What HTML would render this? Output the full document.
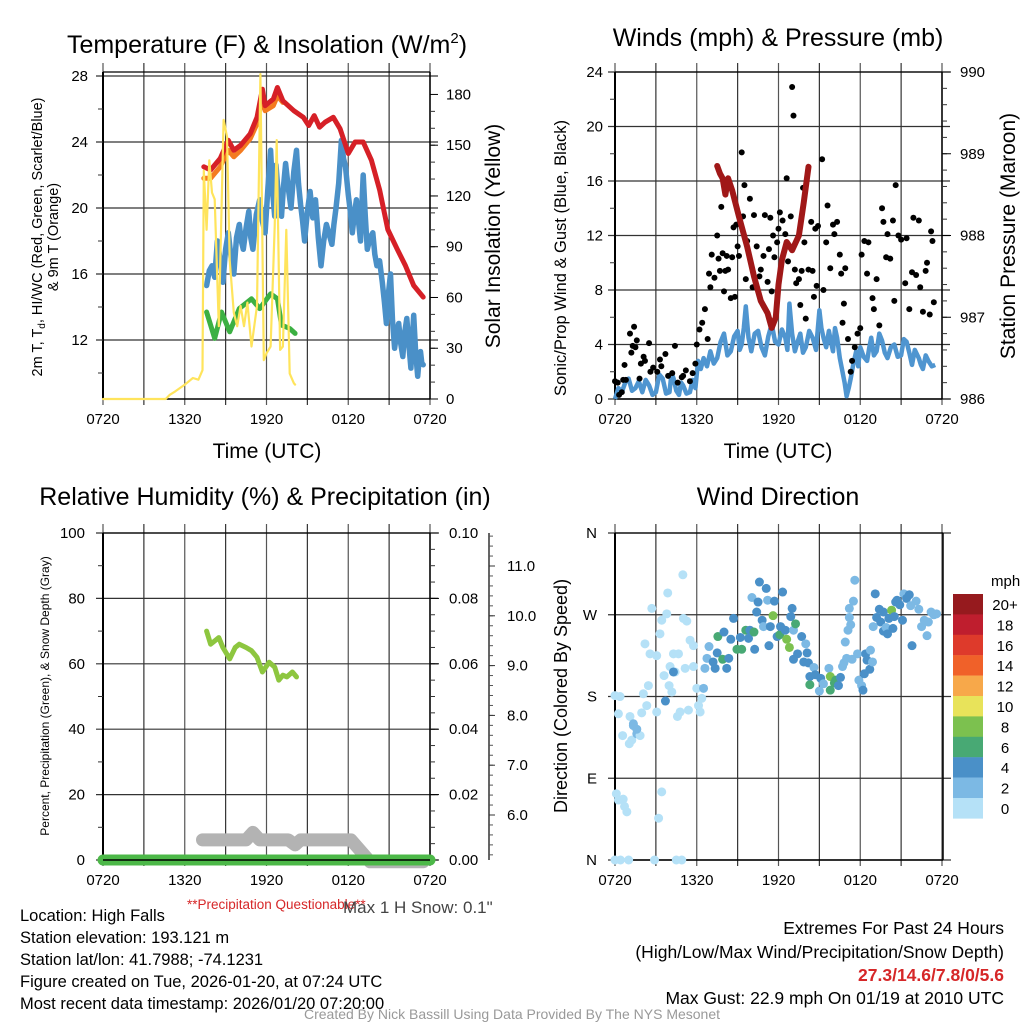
<!DOCTYPE html>
<html><head><meta charset="utf-8"><style>
body{margin:0;background:#fff}
svg{display:block;font-family:"Liberation Sans",sans-serif}
</style></head><body>
<svg id="chart" width="1024" height="1024" viewBox="0 0 1024 1024">
<g id="g1"></g>
<g id="g2"></g>
<g id="g3"></g>
<g id="g4"></g>
<g id="txt">
<text x="267" y="53" font-size="25" text-anchor="middle">Temperature (F) &amp; Insolation (W/m<tspan dy="-10" font-size="15">2</tspan><tspan dy="10">)</tspan></text>
<text x="778" y="46" font-size="25" text-anchor="middle">Winds (mph) &amp; Pressure (mb)</text>
<text x="265" y="505" font-size="25" text-anchor="middle">Relative Humidity (%) &amp; Precipitation (in)</text>
<text x="778" y="505" font-size="25" text-anchor="middle">Wind Direction</text>
<text x="267" y="458" font-size="21" text-anchor="middle">Time (UTC)</text>
<text x="778" y="458" font-size="21" text-anchor="middle">Time (UTC)</text>
<text transform="translate(42,237) rotate(-90)" font-size="14.5" text-anchor="middle">2m T, T<tspan dy="3" font-size="10">d</tspan><tspan dy="-3">, HI/WC (Red, Green, Scarlet/Blue)</tspan></text>
<text transform="translate(58,237) rotate(-90)" font-size="14.5" text-anchor="middle">&amp; 9m T (Orange)</text>
<text transform="translate(500,236) rotate(-90)" font-size="21" text-anchor="middle">Solar Insolation (Yellow)</text>
<text transform="translate(566,258) rotate(-90)" font-size="16.5" text-anchor="middle">Sonic/Prop Wind &amp; Gust (Blue, Black)</text>
<text transform="translate(1015,236) rotate(-90)" font-size="21" text-anchor="middle">Station Pressure (Maroon)</text>
<text transform="translate(49,696) rotate(-90)" font-size="12" text-anchor="middle">Percent, Precipitation (Green), &amp; Snow Depth (Gray)</text>
<text transform="translate(567,696) rotate(-90)" font-size="18" text-anchor="middle">Direction (Colored By Speed)</text>
<text x="187" y="909" font-size="13.5" fill="#d62728">**Precipitation Questionable**</text>
<text x="343" y="913" font-size="17" fill="#444">Max 1 H Snow: 0.1"</text>
<g font-size="16.5">
<text x="20" y="921">Location: High Falls</text>
<text x="20" y="943">Station elevation: 193.121 m</text>
<text x="20" y="965">Station lat/lon: 41.7988; -74.1231</text>
<text x="20" y="987">Figure created on Tue, 2026-01-20, at 07:24 UTC</text>
<text x="20" y="1009">Most recent data timestamp: 2026/01/20 07:20:00</text>
</g>
<g font-size="17.5" text-anchor="end">
<text x="1004" y="934">Extremes For Past 24 Hours</text>
<text x="1004" y="958">(High/Low/Max Wind/Precipitation/Snow Depth)</text>
<text x="1004" y="981" fill="#d62728" font-weight="bold">27.3/14.6/7.8/0/5.6</text>
<text x="1004" y="1004">Max Gust: 22.9 mph On 01/19 at 2010 UTC</text>
</g>
<text x="512" y="1019" font-size="14" fill="#999" text-anchor="middle">Created By Nick Bassill Using Data Provided By The NYS Mesonet</text>
</g>
</svg>
<script>
// ---- Temperature panel data (t = hours since 0720 UTC) ----
const tempT = [7.4,7.9,8.6,9.2,9.6,10.1,10.8,11.3,11.7,11.9,12.5,12.8,13.2,14,14.7,15.1,15.5,15.9,16.3,16.9,17.4,18,18.5,19.1,19.7,20.3,20.9,21.6,22.2,22.8,23.5];
const tempV = [22.5,22.3,23.0,24.1,23.5,23.8,24.5,25.5,27.2,26.2,26.6,27.3,26.5,25.9,25.5,25.0,25.6,24.9,25.2,25.5,24.8,23.3,24.0,24.0,22.9,21.1,18.7,17.5,16.5,15.3,14.6];
const t9T = [7.4,7.9,8.6,9.2,9.6,10.1,10.8,11.3,11.7,11.9,12.5,12.8,13.2];
const t9V = [21.8,21.8,22.5,23.5,23.1,23.5,24.2,25.1,26.8,25.9,26.2,26.8,26.4];
const dewT = [7.6,8.2,8.7,9.3,10,10.9,11.5,12.3,12.8,13.1,13.7,14.1];
const dewV = [13.7,12.1,13.7,12.5,13.9,14.5,13.9,14.8,14.5,12.9,12.7,12.4];
const wcT = [7.6,7.8,8,8.2,8.4,8.6,8.8,9,9.2,9.4,9.6,9.8,10,10.15,10.3,10.5,10.7,10.85,11,11.25,11.5,11.7,11.9,12.1,12.3,12.45,12.6,12.7,12.8,12.95,13.1,13.25,13.4,13.6,13.8,14,14.2,14.35,14.5,14.65,14.8,15,15.2,15.4,15.6,15.8,16,16.2,16.4,16.6,16.8,16.95,17.1,17.3,17.5,17.65,17.8,18,18.15,18.3,18.45,18.6,18.75,18.9,19,19.1,19.25,19.4,19.6,19.8,19.95,20.1,20.3,20.5,20.65,20.8,20.95,21.1,21.25,21.4,21.55,21.7,21.85,22,22.15,22.3,22.45,22.6,22.7,22.8,22.95,23.1,23.2,23.3,23.4,23.5];
const wcV = [15.3,16.2,16.5,15.8,18,16.8,15.5,17.5,18.5,17,16,18.2,19,18,17.5,18.8,19.8,18.2,17.5,19.6,20.5,19.2,18.5,21.2,23.5,21,19.5,22.6,21.5,20,19.5,21.3,22.7,21.2,20,22.2,23.5,21.5,20.2,19.2,18,19.8,21,19.4,20.5,18.2,16.5,18,19,18.4,17.8,19,20,21.5,24.1,23,22.5,20.8,19.8,18.5,19.6,20.5,19.2,18,20.2,22,19.5,17.5,18.2,18.5,17.2,16.5,16.8,15.5,14.3,13,14.8,16,13.2,11.5,12.4,13,11.8,11,12.5,13.3,11.7,10.3,12,13.5,11.2,9.8,10.8,11.3,10.6,10.5];
const solT = [0,4.6,4.9,5.3,6,6.6,7,7.3,7.4,7.6,7.8,8,8.2,8.5,8.85,9.1,9.3,9.6,9.85,10.1,10.35,10.6,10.9,11.3,11.55,11.8,12,12.3,12.6,12.75,13,13.2,13.45,13.7,14,14.1];
const solV = [0,0,2.5,4.5,8.5,12.4,11.4,17,135,100,141,122,118,43,165,155,82,51,43,55,43,57,31,55,192,23,27,31,102,153,29,31,100,15,9.4,8.5];
const tempTicks = [12,16,20,24,28];
const solTicks = [0,30,60,90,120,150,180];
const timeLabels = ["0720","1320","1920","0120","0720"];
// ---- Winds panel data ----
const presT = [7.5,7.7,7.9,8.1,8.3,8.6,9.1,9.7,10.2,10.7,11.2,11.5,11.8,12,12.25,12.6,13,13.5,13.85,14.2];
const presV = [988.85,988.76,988.7,988.5,988.7,988.55,988.23,987.86,987.5,987.2,987.05,986.87,987.0,987.4,987.7,987.92,987.82,988.0,988.4,988.84];
const windT = [0,0.25,0.5,0.75,1,1.25,1.5,1.75,2,2.25,2.5,2.75,3,3.25,3.5,3.75,4,4.15,4.3,4.5,4.7,4.85,5,5.25,5.5,5.7,5.9,6.1,6.3,6.5,6.75,7,7.25,7.5,7.75,8,8.25,8.5,8.75,9,9.15,9.3,9.45,9.6,9.8,10,10.25,10.5,10.75,11,11.25,11.5,11.75,12,12.25,12.5,12.65,12.8,13,13.2,13.4,13.6,13.8,14,14.25,14.5,14.75,15,15.15,15.3,15.5,15.7,15.85,16,16.15,16.3,16.5,16.7,16.85,17,17.15,17.3,17.5,17.7,17.85,18,18.25,18.5,18.65,18.8,19,19.2,19.4,19.6,19.8,20,20.25,20.5,20.75,21,21.2,21.4,21.6,21.8,22,22.3,22.45,22.6,22.8,23,23.25,23.5];
const windV = [0,0.8,0.5,1.2,1.5,0.6,0.8,1.3,0.5,1.4,1,0.3,0.5,1.8,1.5,0.4,0.5,1.9,1.5,0.6,0.3,1.2,1,0.4,0.5,1.4,0.8,2.8,2.2,3,2.4,3.5,2.6,3,4.2,4.8,3.2,3.5,4.6,5,3.6,4,5.2,6.8,4.5,3.5,4.8,5,3.8,3.2,4.6,5.5,4.2,4,5.1,4.5,3.6,7,4.8,3.5,4.2,4.8,3.4,3.8,5,4.5,3.6,6.5,5.2,4.5,3.8,5,4.2,3.5,5.2,4.5,3,2,1.2,0.2,0.8,1.5,2.6,3.5,2.4,3.8,3.1,2.8,3.7,4.5,3.2,3.5,4.8,4.3,3.4,3,3.8,4,3.1,3.2,4.4,4.2,3.4,2.5,3.6,3,2.5,2.2,3.2,2.8,2.4,2.5];
const gustT = [0,0.2,0.3,0.5,0.6,0.7,0.8,1.1,1.2,1.3,1.4,1.5,1.6,1.8,1.9,2.1,2.2,2.5,2.6,2.8,3.1,3.3,3.4,3.7,3.9,4.2,4.4,4.6,4.9,5,5.2,5.5,5.7,5.9,6,6.2,6.4,6.6,6.8,6.9,7,7.1,7.3,7.5,7.6,7.7,7.8,7.9,8,8.1,8.2,8.3,8.5,8.6,8.7,8.8,8.9,9,9.1,9.3,9.4,9.5,9.6,9.7,9.9,10.1,10.2,10.4,10.6,10.7,10.9,11,11.2,11.3,11.4,11.5,11.6,11.7,11.9,12,12.1,12.3,12.5,12.6,12.7,12.9,13,13.1,13.2,13.3,13.5,13.6,13.7,13.8,13.9,14,14.2,14.4,14.5,14.6,14.7,14.8,14.9,15.2,15.3,15.5,15.6,15.8,16,16.1,16.3,16.5,16.6,16.7,16.8,16.9,17.1,17.3,17.4,17.6,17.8,18,18.1,18.3,18.5,18.6,18.9,19,19.2,19.4,19.6,19.7,19.9,20,20.2,20.4,20.5,20.6,20.8,21,21.3,21.4,21.6,21.8,21.9,22.1,22.3,22.4,22.6,22.8,22.9,23.1,23.2,23.3,23.4];
const gustV = [1.3,1.2,0.3,0.5,1.4,2.5,1.4,4.8,3.4,3.9,5.3,3.8,4.3,1.5,2.6,3.1,2.8,4.1,2,2.3,2,2.9,2.4,3.3,1.7,1.9,3.9,1.2,1.6,1.7,2.1,1.3,1.9,2.6,4,5.1,5.6,6.6,4.4,9.2,8.2,10.6,8.9,12,10.3,9.4,14.1,10.7,7.9,9.4,10.5,9.5,7.4,10.4,12.6,7.5,12.8,11.2,10.5,18.1,13.4,15.7,8.8,11.6,14.7,8.2,13.5,11.2,9,9.5,10.5,13.5,8.6,11,13.3,7.9,12,10.4,11.5,12.5,13.7,13.1,12.1,16.2,10.1,13.4,22.9,20.8,9.5,8.5,8.8,6.9,9.4,15.5,11.5,5.9,9.5,13,9.4,7.5,12.5,8.3,12.7,17.6,8,11.5,14.2,9.6,12.8,12.1,13,10.6,9.2,5.6,7,9.6,4.4,2,2.8,3.8,4.8,5.2,10.6,11.6,9.2,11.5,7.4,6.6,8.8,5.4,14,13,10.4,12.1,10.3,13.1,7.2,15.7,12,11.7,8.5,11.8,6.6,9.3,13.3,9.1,13.1,8.2,6.4,9.4,10,6.2,12.3,11.6,7.1];
const windTicks = [0,4,8,12,16,20,24];
const presTicks = [986,987,988,989,990];
// ---- Humidity panel data ----
const rhT = [7.6,7.9,8.2,8.5,8.8,9.3,9.7,10,10.5,10.9,11.3,11.7,12.2,12.6,12.9,13.2,13.5,13.9,14.2];
const rhV = [70,66,67,68,65,61.5,65,66,65,64,62,57.5,60.5,59,55,56.5,56,57.5,56];
const snowT = [7.3,10.5,11,11.5,12.3,13.6,14.1,14.5,18.2,19.6,23.5];
const snowV = [5.5,5.5,5.65,5.5,5.5,5.5,5.4,5.5,5.5,5.06,5.06];
const precipT = [0,24];
const precipV = [0,0];
const rhTicks = [0,20,40,60,80,100];
const precTicks = ["0.00","0.02","0.04","0.06","0.08","0.10"];
const snowTicks = [6,7,8,9,10,11];
// ---- Wind direction data ----
const dirT = [0,0.37,0.25,0.56,1.1,1.05,1.23,1.35,1.6,1.84,1.96,2.08,2.33,2.45,2.7,2.57,2.2,3.06,3.06,3.3,3.43,3.6,3.8,3.87,3.97,4.04,4.17,4.29,4.41,4.58,4.66,4.78,4.98,5.02,5.27,5.15,5.39,5.51,5.76,5.76,6.0,6.13,6.25,6.37,0.1,0.25,0.6,0.7,0.87,3.43,3.2,0,0.4,1,2.9,4.5,4.9,1.35,1.6,3.7,4.29,
 6.5,6.6,6.75,6.9,7.2,7.35,7.55,7.5,7.9,8,8.2,8.35,8.5,8.7,8.95,9.3,9.2,9.6,9.8,9.9,10.2,10.25,10.4,10.05,10.5,10.6,11.1,10.8,10.9,11.2,11.3,11.4,11.6,11.7,11.9,12.1,12.15,12.3,12.5,12.6,12.8,12.9,13,13.1,13.25,13.4,13.1,13.7,13.85,14,14.1,14.2,14.3,14.6,14.3,14.7,15.1,15,15.3,15.7,15.8,15.8,16.1,16.2,16.4,16.55,16.7,16.8,17.0,16.9,17.1,17.3,17.2,17.5,17.6,17.2,17.4,17.8,17.9,18.1,18.2,18.3,18.4,18.5,18.7,18.75,18.9,18.95,19.1,19.2,19.4,19.5,19.7,19.7,19.9,20,20.1,20.3,20.4,20.5,20.6,20.7,20.9,21.1,21.2,21.4,21.6,21.7,21.8,22.1,22.3,22.5,22.7,22.9,23.0,23.2,23.4,23.6];
const dirV = [181,180,161,137,158,128,132,148,139,137,162,183,170,192,277,227,238,225,163,249,264,203,271,294,192,213,185,227,207,158,227,163,314,266,263,211,165,242,236,213,189,170,163,178,73,66,67,59,53,75,46,0,0,0,0,0,0,150,144,175,207,
 189,211,222,235,218,211,246,228,221,251,211,222,243,266,232,232,245,253,244,253,251,232,273,289,284,306,299,264,257,286,236,257,269,285,246,248,257,295,253,243,234,268,277,253,260,227,221,246,218,238,228,217,202,212,193,204,200,186,194,211,202,187,195,198,192,201,213,217,222,240,253,259,267,285,308,277,221,227,198,192,187,205,227,220,210,231,218,257,293,267,276,262,273,252,256,249,266,275,255,268,284,286,281,264,293,288,292,280,236,285,276,257,264,247,262,273,270,271];
const dirS = [1,1,1,1,1,1,1,2,2,1,1,1,1,1,1,1,1,1,1,1,1,1,1,1,1,1,1,1,1,1,1,1,1,1,1,1,1,1,1,1,1,1,1,1,1,1,1,1,1,1,1,1,1,1,1,1,1,3,3,4,4,
 3,3,2,2,5,5,7,5,7,5,5,5,5,5,7,7,5,7,5,5,7,5,5,3,5,5,5,5,3,3,5,5,9,5,5,7,5,5,5,9,9,5,5,3,7,5,5,5,5,3,5,5,5,3,7,5,5,2,3,3,9,7,7,7,5,5,3,3,3,3,2,2,2,3,2,2,3,3,3,3,5,5,5,5,5,3,3,2,5,5,5,5,5,5,3,5,5,9,5,5,5,5,5,5,3,5,5,3,5,3,3,3,3,3,3,3,3,3,3,3,3,3,3,3];
const cbLabels = ["20+","18","16","14","12","10","8","6","4","2","0"];
const cbColors = ["#961a1e","#bf1e2e","#de3a2b","#f06129","#f7a84a","#e8e35a","#7cc14f","#48a974","#4a90c8","#7cb9e4","#b5e1f7"];

const NS="http://www.w3.org/2000/svg";
function mk(parent,tag,attrs){const e=document.createElementNS(NS,tag);for(const k in attrs)e.setAttribute(k,attrs[k]);parent.appendChild(e);return e;}
function txt(parent,x,y,s,size,anchor){const e=mk(parent,'text',{x:x,y:y,'font-size':size,'text-anchor':anchor||'middle'});e.textContent=s;return e;}
function pathFrom(ts,vs,xf,yf){return ts.map((t,i)=>(i?'L':'M')+xf(t).toFixed(1)+','+yf(vs[i]).toFixed(1)).join('');}

const HX=13.625;
function frame(g,L,T,R,B,hy){
  for(let h=0;h<=24;h+=3){const x=L+h*HX;const l=mk(g,'line',{x1:x,y1:T-9,x2:x,y2:B+6,stroke:(h%6?'#333':'#555'),'stroke-width':1.2});
  
  }
  hy.forEach(y=>{const l=mk(g,'line',{x1:L-7,y1:y,x2:R+8,y2:y,stroke:'#333','stroke-width':1.2});
  
  });
  mk(g,'line',{x1:L,y1:T,x2:L,y2:B,stroke:'#000','stroke-width':2});
  mk(g,'line',{x1:R,y1:T,x2:R,y2:B,stroke:'#000','stroke-width':1.5});
  mk(g,'line',{x1:L,y1:T,x2:R,y2:T,stroke:'#000','stroke-width':1.2});
  mk(g,'line',{x1:L,y1:B,x2:R,y2:B,stroke:'#000','stroke-width':1.5});
  timeLabels.forEach((s,i)=>{const e=txt(g,L+i*6*HX,B+25,s,15);
  
  });
}
function minorTicks(g,x,y0,y1,step,dir){for(let y=y0;y<=y1+0.1;y+=step)mk(g,'line',{x1:x,y1:y,x2:x+dir*5,y2:y,stroke:'#333','stroke-width':1});}

// ---- Panel 1 ----
(function(){
 const g=document.getElementById('g1');const L=103,R=430,T=72,B=399;
 const x=t=>L+t*HX, yT=v=>76+(28-v)*16.5, yS=v=>399-v*1.692;
 frame(g,L,T,R,B,tempTicks.map(yT));
 minorTicks(g,L,yT(26),yT(10),33,-1);
 minorTicks(g,R,yS(170),yS(10),16.92,1);
 tempTicks.forEach(v=>{const e=txt(g,88,yT(v)+5,String(v),15,'end');
 
 });
 solTicks.forEach(v=>{mk(g,'line',{x1:R,y1:yS(v),x2:R+8,y2:yS(v),stroke:'#000'});const e=txt(g,446,yS(v)+5,String(v),15,'start');
 
 });
 const lines=[[wcT,wcV,yT,'#4a90c8',5.5,'wind-chill-line'],[t9T,t9V,yT,'#f47b20',5,'temp-9m-line'],[tempT,tempV,yT,'#d62027',5,'temp-2m-line'],[dewT,dewV,yT,'#3cb043',5,'dewpoint-line'],[solT,solV,yS,'#ffe45c',2.2,'insolation-line']];
 lines.forEach(a=>{const p=mk(g,'path',{d:pathFrom(a[0],a[1],x,a[2]),fill:'none',stroke:a[3],'stroke-width':a[4],'stroke-linejoin':'round','stroke-linecap':'round'});
 
 });
})();
// ---- Panel 2 ----
(function(){
 const g=document.getElementById('g2');const L=615,R=942,T=72,B=399;
 const x=t=>L+t*HX, yW=v=>399-v*13.625, yP=p=>399-(p-986)*81.75;
 frame(g,L,T,R,B,windTicks.map(yW));
 minorTicks(g,L,yW(22),yW(2),54.5,-1);
 minorTicks(g,R,yP(989.8),yP(986.2),16.35,1);
 windTicks.forEach(v=>{const e=txt(g,603,yW(v)+5,String(v),15,'end');
 
 });
 presTicks.forEach(v=>{mk(g,'line',{x1:R,y1:yP(v),x2:R+9,y2:yP(v),stroke:'#000'});const e=txt(g,960,yP(v)+5,String(v),15,'start');
 
 });
 const w=mk(g,'path',{d:pathFrom(windT,windV,x,yW),fill:'none',stroke:'#4f95d0','stroke-width':4.5,'stroke-linejoin':'round'});
 
 
 gustT.forEach((t,i)=>{const c=mk(g,'circle',{cx:x(t),cy:yW(gustV[i]),r:3,fill:'#000'});
 
 });
 const p=mk(g,'path',{d:pathFrom(presT,presV,x,yP),fill:'none',stroke:'#a01818','stroke-width':6,'stroke-linejoin':'round','stroke-linecap':'round'});
 
 
})();
// ---- Panel 3 ----
(function(){
 const g=document.getElementById('g3');const L=103,R=430,T=533,B=860;
 const x=t=>L+t*HX, yR=v=>860-v*3.27, ySn=v=>815-(v-6)*49.8;
 frame(g,L,T,R,B,rhTicks.map(yR));
 minorTicks(g,L,yR(90),yR(10),65.4,-1);
 minorTicks(g,R,yR(95),yR(5),16.35,1);
 rhTicks.forEach(v=>{const e=txt(g,85,yR(v)+5,String(v),15,'end');
 
 });
 precTicks.forEach((s,i)=>{const y=yR(i*20);mk(g,'line',{x1:R,y1:y,x2:R+9,y2:y,stroke:'#000'});const e=txt(g,449,y+5,s,15,'start');
 
 });
 const ax=mk(g,'line',{x1:489,y1:533,x2:489,y2:860,stroke:'#333','stroke-width':1.5});
 
 
 for(let v=5.2;v<=11.6;v+=0.2){const y=ySn(v);if(y>=533&&y<=860)mk(g,'line',{x1:489,y1:y,x2:493,y2:y,stroke:'#555'});}
 snowTicks.forEach(v=>{mk(g,'line',{x1:489,y1:ySn(v),x2:495,y2:ySn(v),stroke:'#333'});const e=txt(g,507,ySn(v)+5,v.toFixed(1),15,'start');
 
 });
 const s=mk(g,'path',{d:pathFrom(snowT,snowV,x,ySn),fill:'none',stroke:'#b3b3b3','stroke-width':13,'stroke-linejoin':'round','stroke-linecap':'round'});
 
 
 const pr=mk(g,'path',{d:pathFrom(precipT,precipV,x,v=>860-v*3270),fill:'none',stroke:'#4cb848','stroke-width':11,'stroke-linecap':'round'});
 
 
 mk(g,'line',{x1:L,y1:B,x2:R,y2:B,stroke:'#000','stroke-width':1.5});
 const rh=mk(g,'path',{d:pathFrom(rhT,rhV,x,yR),fill:'none',stroke:'#8dc63f','stroke-width':5,'stroke-linejoin':'round','stroke-linecap':'round'});
 
 
})();
// ---- Panel 4 ----
(function(){
 const g=document.getElementById('g4');const L=615,R=943,T=533,B=860;
 const x=t=>L+t*HX, yD=d=>860-d*0.9083;
 frame(g,L,T,R,B,[0,90,180,270,360].map(yD));
 ["N","E","S","W","N"].forEach((s,i)=>{const e=txt(g,597,yD(i*90)+5,s,15,'end');
 
 });
 dirT.forEach((t,i)=>{const sp=(dirS[i]===undefined?3:dirS[i]);const idx=Math.max(0,Math.min(10,10-Math.floor(sp/2)));
 const c=mk(g,'circle',{cx:x(t),cy:yD(dirV[i]),r:4.5,fill:cbColors[idx]});
 
 });
 const t=txt(g,991,586,'mph',15,'start');
 
 
 cbColors.forEach((c,i)=>{const r=mk(g,'rect',{x:953,y:594+i*20.4,width:30,height:20.6,fill:c});
 
 
 const e=txt(g,1005,594+i*20.4+16,cbLabels[i],15,'middle');
 
 });
})();
</script>
</body></html>
